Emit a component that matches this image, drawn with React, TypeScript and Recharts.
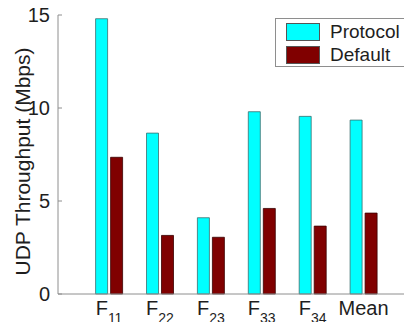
import { Bar, BarChart, Legend, XAxis, YAxis } from "recharts";

const categories = ["F11", "F22", "F23", "F33", "F34", "Mean"];
const protocolValues = [14.8, 8.65, 4.1, 9.8, 9.55, 9.35];
const defaultValues = [7.35, 3.15, 3.05, 4.6, 3.65, 4.35];
const seriesNames = ["Protocol", "Default"];
const yTicks = [0, 5, 10, 15];

const data = categories.map((name, i) => ({
  name,
  protocol: protocolValues[i],
  default: defaultValues[i],
}));

const font = '"Liberation Sans", Arial, sans-serif';
const axisColor = "#8e8e8e";
const textColor = "#1e1e1e";

const CategoryTick = ({ x, y, payload }: any) => {
  const label: string = payload.value;
  const isSub = label.startsWith("F");
  return (
    <text
      x={x}
      y={y + 21}
      textAnchor="middle"
      fontFamily={font}
      fontSize={20}
      fill={textColor}
    >
      {isSub ? (
        <>
          <tspan>F</tspan>
          <tspan dy={8} fontSize={14}>
            {label.slice(1)}
          </tspan>
        </>
      ) : (
        label
      )}
    </text>
  );
};

const LegendBox = ({ payload }: any) => {
  const items = [...(payload || [])].sort(
    (a: any, b: any) => seriesNames.indexOf(a.value) - seriesNames.indexOf(b.value)
  );
  return (
    <div
      style={{
        border: `1px solid ${axisColor}`,
        background: "#fff",
        padding: "4px 0 3px 10px",
        width: 130,
        fontFamily: font,
        fontSize: 19,
        color: textColor,
      }}
    >
      {items.map((item: any, i: number) => (
        <div
          key={item.value}
          style={{
            display: "flex",
            alignItems: "center",
            height: 17,
            marginTop: i === 0 ? 0 : 6,
          }}
        >
          <div
            style={{
              width: 32,
              height: 16,
              background: item.color,
              border: "1px solid #555",
              marginRight: 10,
            }}
          />
          <span style={{ lineHeight: "17px" }}>{item.value}</span>
        </div>
      ))}
    </div>
  );
};

const YLabel = ({ viewBox }: any) => {
  const cx = 22;
  const cy = viewBox.y + viewBox.height / 2 + 7;
  return (
    <text
      x={cx}
      y={cy}
      transform={`rotate(-90, ${cx}, ${cy})`}
      textAnchor="middle"
      dominantBaseline="central"
      fontFamily={font}
      fontSize={21}
      fill={textColor}
    >
      UDP Throughput (Mbps)
    </text>
  );
};

export default function App() {
  return (
    <div style={{ width: 404, height: 322, overflow: "hidden", position: "relative", background: "#fff" }}>
      <style>{"body{margin:0}"}</style>
      <BarChart
        width={404}
        height={322}
        data={data}
        margin={{ top: 15, right: -10, bottom: 0, left: 0 }}
        barSize={12}
        barGap={3}
      >
        <XAxis
          dataKey="name"
          height={28}
          padding={{ left: 25.6, right: 25 }}
          axisLine={{ stroke: axisColor }}
          tickLine={false}
          tickSize={0}
          tickMargin={0}
          interval={0}
          tick={<CategoryTick />}
        />
        <XAxis
          xAxisId="top"
          orientation="top"
          dataKey="name"
          height={0}
          padding={{ left: 25.6, right: 25 }}
          axisLine={{ stroke: axisColor }}
          tickLine={{ stroke: axisColor }}
          tickSize={-4}
          tick={false}
          interval={0}
        />
        <YAxis
          width={58}
          domain={[0, 15]}
          ticks={yTicks}
          axisLine={{ stroke: axisColor }}
          tickLine={{ stroke: axisColor }}
          tickSize={-4}
          tickMargin={12}
          tick={{ fontFamily: font, fontSize: 20, fill: textColor }}
          label={{ content: YLabel }}
        />
        <Legend
          layout="vertical"
          verticalAlign="middle"
          align="center"
          wrapperStyle={{ position: "absolute", top: 18, left: 275, width: 140 }}
          content={<LegendBox />}
        />
        <Bar
          dataKey="protocol"
          name="Protocol"
          fill="#00ffff"
          stroke="#3c6e6e"
          strokeWidth={0.8}
          isAnimationActive={false}
        />
        <Bar
          dataKey="default"
          name="Default"
          fill="#800000"
          stroke="#3a0000"
          strokeWidth={0.8}
          isAnimationActive={false}
        />
      </BarChart>
    </div>
  );
}
